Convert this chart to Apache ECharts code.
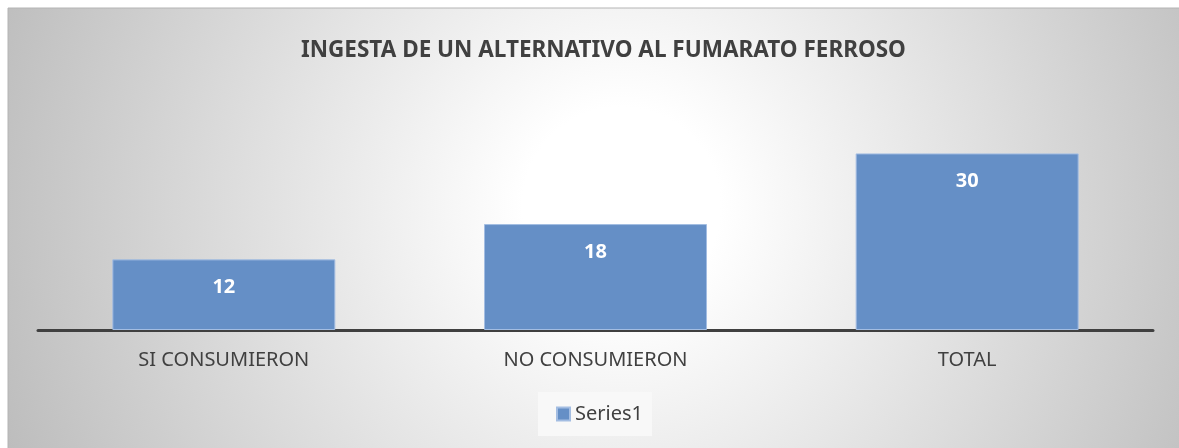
<!DOCTYPE html>
<html>
<head>
<meta charset="utf-8">
<script src="https://cdn.jsdelivr.net/npm/echarts@6/dist/echarts.min.js"></script>
<style>
  html, body { margin: 0; padding: 0; background: #fff; }
  #main { width: 1179px; height: 448px; }
</style>
</head>
<body>
<div id="main"></div>
<script>
const categories = ['SI CONSUMIERON', 'NO CONSUMIERON', 'TOTAL'];
const values = [12, 18, 30];
const seriesName = 'Series1';
const chartTitle = 'INGESTA DE UN ALTERNATIVO AL FUMARATO FERROSO';

const font = '"Noto Sans", sans-serif';
const chart = echarts.init(document.getElementById('main'));

const option = {
  backgroundColor: '#fff',
  animation: false,
  graphic: [{
    type: 'rect',
    z: -10,
    silent: true,
    shape: { x: 8, y: 8, width: 1180, height: 450 },
    style: {
      fill: new echarts.graphic.RadialGradient(0.52, 0.44, 1.46, [
        { offset: 0, color: '#ffffff' },
        { offset: 0.15, color: '#ffffff' },
        { offset: 1, color: '#bdbdbd' }
      ]),
      stroke: '#b4b4b4',
      lineWidth: 1
    }
  }],
  title: {
    text: chartTitle,
    left: 296,
    top: 34,
    textStyle: {
      fontFamily: font,
      fontSize: 22.5,
      fontWeight: 'bold',
      color: '#404040'
    }
  },
  legend: {
    data: [seriesName],
    left: 538,
    top: 392,
    padding: [12, 9, 12, 18],
    backgroundColor: '#f8f8f8',
    icon: 'rect',
    itemWidth: 13,
    itemHeight: 13,
    itemGap: 6,
    textStyle: { fontFamily: font, fontSize: 20, color: '#404040' }
  },
  grid: { left: 38, right: 26, top: 124, bottom: 118 },
  xAxis: {
    type: 'category',
    data: categories,
    axisLine: { lineStyle: { color: '#404040', width: 3 } },
    axisTick: { show: false },
    axisLabel: {
      margin: 20,
      fontFamily: font,
      fontSize: 20,
      color: '#404040'
    }
  },
  yAxis: {
    type: 'value',
    min: 0,
    max: 35,
    show: false,
    splitLine: { show: false }
  },
  series: [{
    name: seriesName,
    type: 'bar',
    data: values,
    barWidth: '60%',
    itemStyle: {
      color: '#658fc6',
      borderColor: '#a3bde2',
      borderWidth: 1
    },
    label: {
      show: true,
      position: 'insideTop',
      distance: 18,
      fontFamily: font,
      fontSize: 20,
      fontWeight: 'bold',
      color: '#ffffff'
    }
  }]
};

chart.setOption(option);
</script>
</body>
</html>
